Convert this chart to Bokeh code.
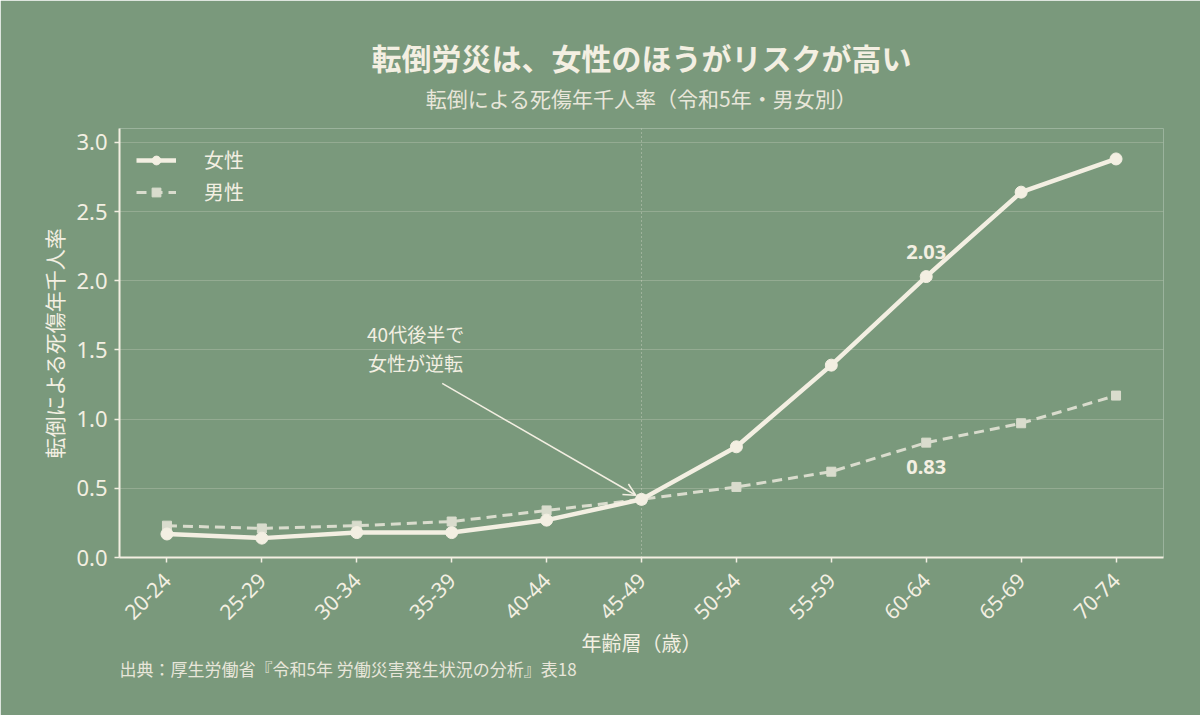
from bokeh.plotting import figure
from bokeh.models import (FactorRange, Range1d, FixedTicker, Label, Arrow, OpenHead,
                          Span, Legend, LegendItem, NumeralTickFormatter, Title)
from bokeh.embed import file_html
from bokeh.resources import INLINE
from math import pi

# ---- data ----
ages = ["20-24", "25-29", "30-34", "35-39", "40-44", "45-49",
        "50-54", "55-59", "60-64", "65-69", "70-74"]
female = [0.17, 0.14, 0.18, 0.18, 0.27, 0.42, 0.80, 1.39, 2.03, 2.64, 2.88]
male = [0.23, 0.21, 0.23, 0.26, 0.34, 0.42, 0.51, 0.62, 0.83, 0.97, 1.17]
y_ticks = [0.0, 0.5, 1.0, 1.5, 2.0, 2.5, 3.0]

title_text = "転倒労災は、女性のほうがリスクが高い"
subtitle_text = "転倒による死傷年千人率（令和5年・男女別）"
xlabel_text = "年齢層（歳）"
ylabel_text = "転倒による死傷年千人率"
source_text = "出典：厚生労働省『令和5年 労働災害発生状況の分析』表18"
note_lines = ["40代後半で", "女性が逆転"]
series_names = ["女性", "男性"]

BG = "#7a997c"
CREAM = "#f3efe2"
SOFT = "#e8e6da"
MALE_C = "#d9dccd"
FONT = "Noto Sans CJK JP"
NUMFONT = "Noto Sans"

p = figure(width=1200, height=715, x_range=FactorRange(factors=ages),
           y_range=Range1d(0, 3.1), output_backend="svg", toolbar_location=None,
           min_border_left=119, min_border_right=37, min_border_top=128,
           min_border_bottom=158)
p.background_fill_color = BG
p.border_fill_color = BG
p.outline_line_color = None

# titles
p.title = Title(text=title_text, align="center", text_color=CREAM, text_font=FONT,
                text_font_size="30px", text_font_style="bold", standoff=-26)
p.add_layout(Title(text=subtitle_text, align="center", text_color=SOFT,
                   text_font=FONT, text_font_size="21px", text_font_style="normal",
                   standoff=31), "above")
p.add_layout(Title(text=source_text, align="left", text_color=SOFT, text_font=FONT,
                   text_font_size="17px", text_font_style="normal", standoff=-12),
             "below")

# grid
p.xgrid.grid_line_color = None
p.ygrid.grid_line_color = CREAM
p.ygrid.grid_line_alpha = 0.22
p.ygrid.grid_line_width = 1
p.yaxis.ticker = FixedTicker(ticks=y_ticks)
p.yaxis.formatter = NumeralTickFormatter(format="0.0")

for ax in (p.xaxis[0], p.yaxis[0]):
    ax.axis_line_color = CREAM
    ax.axis_line_width = 2
    ax.major_tick_line_color = CREAM
    ax.major_tick_line_width = 1.5
    ax.major_tick_out = 5
    ax.major_tick_in = 0
    ax.minor_tick_line_color = None
    ax.major_label_text_color = CREAM
    ax.major_label_text_font = NUMFONT
    ax.axis_label_text_color = CREAM
    ax.axis_label_text_font = FONT
    ax.axis_label_text_font_style = "normal"
p.xaxis.axis_label_text_font_size = "20px"
p.yaxis.axis_label_text_font_size = "21px"
p.yaxis.major_label_text_font_size = "22px"
p.xaxis.major_label_text_font_size = "21px"
p.yaxis.major_label_standoff = 7
p.xaxis.major_label_orientation = pi / 4
p.xaxis.major_label_standoff = 14
p.xaxis.axis_label = xlabel_text
p.yaxis.axis_label = ylabel_text
p.xaxis.axis_label_standoff = -2
p.yaxis.axis_label_standoff = 4

# vertical dotted marker at 45-49
p.add_layout(Span(location=5.5, dimension="height", line_color=CREAM,
                  line_alpha=0.6, line_width=1, line_dash="1 3"))

# series
ml = p.line(ages, male, line_color=MALE_C, line_width=3, line_dash="10 6")
ms = p.scatter(ages, male, marker="square", size=9, fill_color=MALE_C,
               line_color=MALE_C)
fl = p.line(ages, female, line_color=CREAM, line_width=4.5)
fs = p.scatter(ages, female, marker="circle", size=12, fill_color=CREAM,
               line_color=CREAM)

legend = Legend(items=[LegendItem(label=series_names[0], renderers=[fl, fs]),
                       LegendItem(label=series_names[1], renderers=[ml, ms])],
                location="top_left", background_fill_alpha=0, border_line_color=None,
                label_text_color=CREAM, label_text_font=FONT,
                label_text_font_size="20px", glyph_width=40, glyph_height=22,
                label_standoff=28, spacing=3, margin=17, padding=10)
p.add_layout(legend)

# value labels
p.add_layout(Label(x=8.5, y=female[8] + 0.175, text=f"{female[8]:.2f}",
                   text_align="center", text_baseline="middle", text_color=CREAM,
                   text_font=NUMFONT, text_font_size="20px", text_font_style="bold"))
p.add_layout(Label(x=8.5, y=male[8] - 0.175, text=f"{male[8]:.2f}",
                   text_align="center", text_baseline="middle", text_color=CREAM,
                   text_font=NUMFONT, text_font_size="20px", text_font_style="bold"))

# annotation
p.add_layout(Label(x=3.12, y=1.62, text=note_lines[0], text_align="center",
                   text_baseline="middle", text_color=CREAM, text_font=FONT,
                   text_font_size="19px"))
p.add_layout(Label(x=3.12, y=1.41, text=note_lines[1], text_align="center",
                   text_baseline="middle", text_color=CREAM, text_font=FONT,
                   text_font_size="19px"))
p.add_layout(Arrow(x_start=3.40, y_start=1.258, x_end=5.44, y_end=0.45,
                   line_color=CREAM, line_width=1.5,
                   end=OpenHead(size=12, line_color=CREAM, line_width=1.5)))

html = file_html(p, INLINE)
html = html.replace("<body>", f'<body style="background-color:{BG};">', 1)
open("out.html", "w").write(html)
